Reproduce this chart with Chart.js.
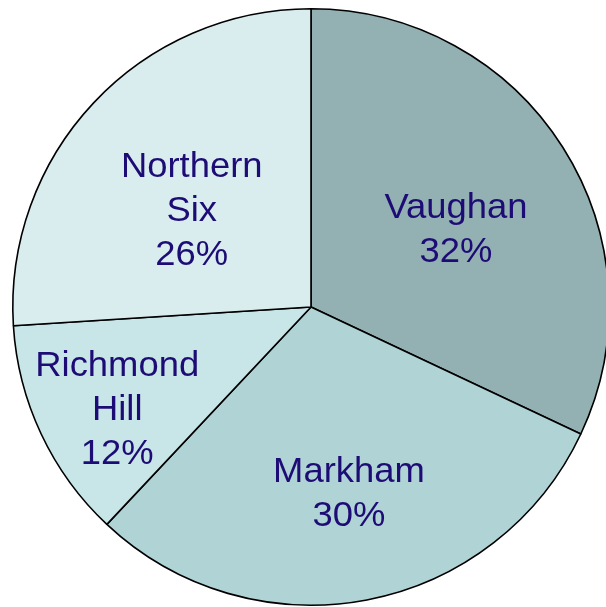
<!DOCTYPE html>
<html>
<head>
<meta charset="utf-8">
<script src="https://cdn.jsdelivr.net/npm/chart.js@4/dist/chart.umd.min.js"></script>
<style>
  html, body { margin: 0; padding: 0; background: #fff; overflow: hidden; }
  canvas { display: block; }
</style>
</head>
<body>
<canvas id="pie" width="622" height="614"></canvas>
<script>
// 数据
const regions = ['Vaughan', 'Markham', 'Richmond Hill', 'Northern Six'];
const shares = [32, 30, 12, 26];
const labelLines = [['Vaughan'], ['Markham'], ['Richmond', 'Hill'], ['Northern', 'Six']];
const sliceColors = ['#93b1b2', '#b0d3d5', '#c8e6e8', '#d9edef'];

// 标签位置微调 (半径比例, 角度偏移 度)
const labelPlace = [[0.556, 3.4], [0.627, -0.9], [0.73, -1.9], [0.522, -3.2]];

const pieLabels = {
  id: 'pieLabels',
  afterDatasetsDraw(chart) {
    const ctx = chart.ctx;
    const meta = chart.getDatasetMeta(0);
    ctx.save();
    ctx.fillStyle = '#1d0c75';
    ctx.font = '35px "Liberation Sans", Arial, sans-serif';
    ctx.textAlign = 'center';
    ctx.textBaseline = 'middle';
    const lineH = 44;
    meta.data.forEach((arc, i) => {
      const p = arc.getProps(['x', 'y', 'startAngle', 'endAngle', 'outerRadius'], true);
      const [frac, dAng] = labelPlace[i];
      const mid = (p.startAngle + p.endAngle) / 2 + dAng * Math.PI / 180;
      const r = p.outerRadius * frac;
      const cx = p.x + Math.cos(mid) * r;
      const cy = p.y + Math.sin(mid) * r + 4;
      const lines = labelLines[i].concat([shares[i] + '%']);
      const y0 = cy - (lines.length - 1) * lineH / 2;
      lines.forEach((t, k) => {
        ctx.save();
        ctx.translate(cx, y0 + k * lineH);
        ctx.scale(1.04, 1);
        ctx.fillText(t, 0, 0);
        ctx.restore();
      });
    });
    ctx.restore();
  }
};

new Chart(document.getElementById('pie').getContext('2d'), {
  type: 'pie',
  data: {
    labels: regions,
    datasets: [{
      data: shares,
      backgroundColor: sliceColors,
      borderColor: '#000',
      borderWidth: 1.6
    }]
  },
  options: {
    responsive: false,
    devicePixelRatio: 1,
    animation: false,
    layout: { padding: { left: 12, right: 12, top: 8, bottom: 8 } },
    plugins: {
      legend: { display: false },
      tooltip: { enabled: false }
    }
  },
  plugins: [pieLabels]
});
</script>
</body>
</html>
